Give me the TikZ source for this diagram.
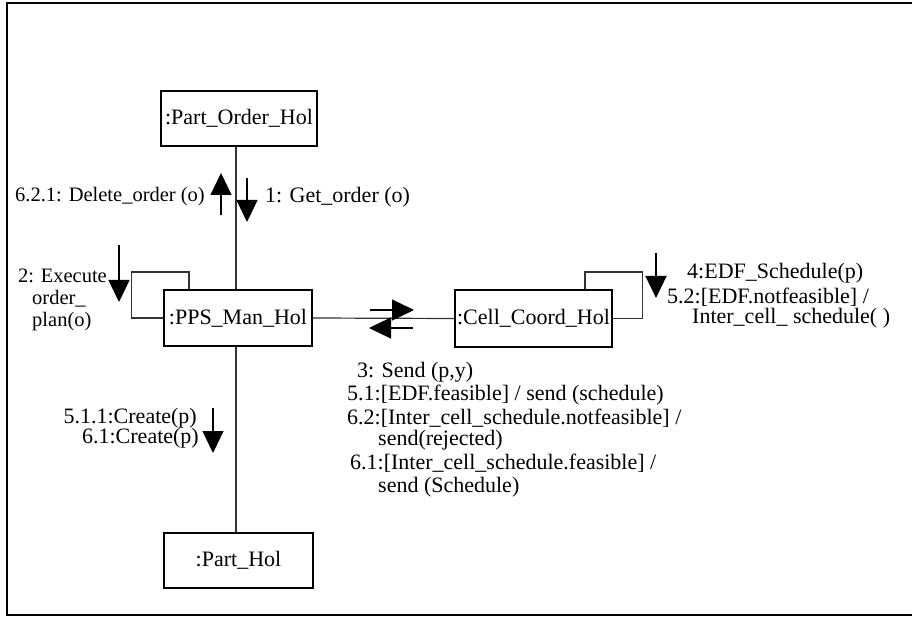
\documentclass[tikz,border=0pt]{standalone}
\usepackage{fontspec}
\setmainfont{Liberation Serif}
\usetikzlibrary{arrows.meta}
\begin{document}
\begin{tikzpicture}[x=1pt,y=-1pt,
  every node/.style={font=\fontsize{22}{26}\selectfont},
  obj/.style={draw=black,line width=1.3pt,inner sep=0pt,minimum height=55pt},
  link/.style={draw=black!80,line width=1.2pt},
  msg/.style={draw=black,line width=1.2pt,-{Triangle[length=22pt,width=21pt]}},
  lbl/.style={inner sep=0pt},
  narrow/.style={font=\fontsize{20.5}{24}\selectfont}]
\useasboundingbox (0,0) rectangle (912,617);
\draw[line width=2pt] (912,3) -- (7,3) -- (7,615) -- (912,615);
% objects
\node[obj,minimum width=156pt] (po) at (239,118.5) {:Part\_Order\_Hol};
\node[obj,minimum width=148pt,minimum height=56pt] (pps) at (238,318) {:PPS\_Man\_Hol};
\node[obj,minimum width=157pt,minimum height=57pt] (cell) at (533.5,318.5) {:Cell\_Coord\_Hol};
\node[obj,minimum width=149pt] (ph) at (238.5,560.5) {:Part\_Hol};
% links
\coordinate (v1) at (236,0);
\draw[link] (po.south -| v1) -- (pps.north -| v1);
\draw[link] (pps.south -| v1) -- (ph.north -| v1);
\draw[link] (pps.east) -- (cell.west);
\draw[link] (pps.west) -- ++(-32,0) |- (189,272) -- (pps.north -| 189,0);
\draw[link] (cell.east) -- ++(30,0) |- (585,272) -- (cell.north -| 585,0);
% message arrows
\coordinate (a1s) at (247,178); \coordinate (a1e) at (247,222);
\coordinate (b1s) at (221,215); \coordinate (b1e) at (221,173);
\coordinate (a2s) at (119,245); \coordinate (a2e) at (119,302);
\coordinate (a4s) at (656,253); \coordinate (a4e) at (656,298);
\coordinate (a3s) at (370,310); \coordinate (a3e) at (414,310);
\coordinate (a5s) at (413,328); \coordinate (a5e) at (369,328);
\coordinate (a6s) at (213,408); \coordinate (a6e) at (213,453);
\draw[msg] (a1s) -- (a1e);
\draw[msg] (b1s) -- (b1e);
\draw[msg] (a2s) -- (a2e);
\draw[msg] (a4s) -- (a4e);
\draw[msg] (a3s) -- (a3e);
\draw[msg] (a5s) -- (a5e);
\draw[msg] (a6s) -- (a6e);
% labels
\node[lbl,anchor=west] (t1) at (265,197) {1: Get\_order (o)};
\node[lbl,narrow,anchor=east] (t621) at (205,197) {6.2.1: Delete\_order (o)};
\node[lbl,narrow,anchor=east] (t2a) at (107,276) {2: Execute};
\node[lbl,narrow,anchor=west] (t2b) at (32,299) {order\_};
\node[lbl,narrow,anchor=west] (t2c) at (32,322) {plan(o)};
\node[lbl,anchor=west] (t4a) at (687,273) {4:EDF\_Schedule(p)};
\node[lbl,anchor=west] (t4b) at (667,297) {5.2:[EDF.notfeasible] /};
\node[lbl,anchor=west] (t4c) at (692,318) {Inter\_cell\_ schedule( )};
\node[lbl,anchor=east] (t5a) at (197,418) {5.1.1:Create(p)};
\node[lbl,anchor=east] (t5b) at (199,438) {6.1:Create(p)};
\node[lbl,anchor=west] (t3a) at (357,372) {3: Send (p,y)};
\node[lbl,anchor=west] (t3b) at (347,395) {5.1:[EDF.feasible] / send (schedule)};
\node[lbl,anchor=west] (t3c) at (347,418) {6.2:[Inter\_cell\_schedule.notfeasible] /};
\node[lbl,anchor=west] (t3d) at (378,440) {send(rejected)};
\node[lbl,anchor=west] (t3e) at (350,463) {6.1:[Inter\_cell\_schedule.feasible] /};
\node[lbl,anchor=west] (t3f) at (378,487) {send (Schedule)};
\end{tikzpicture}
\end{document}
